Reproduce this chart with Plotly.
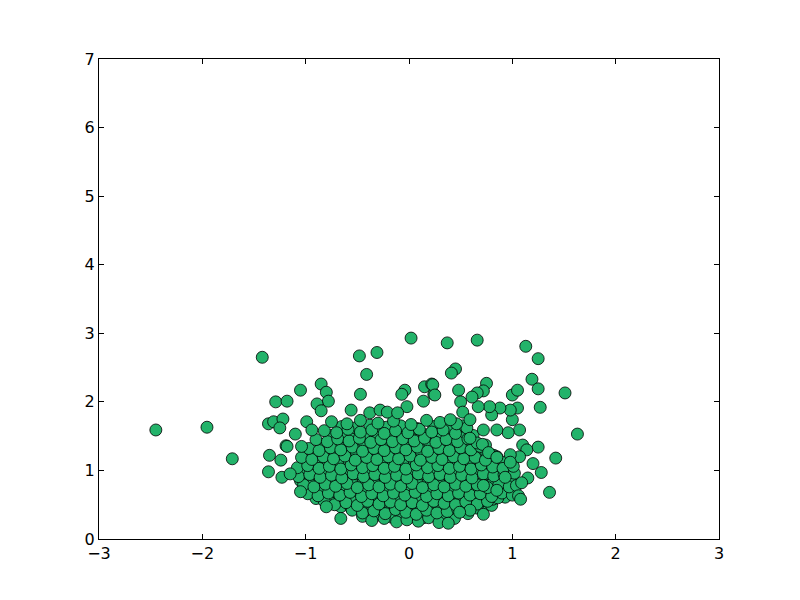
import plotly.graph_objects as go

GREEN = "#23B36A"

# scattered points around the main cloud
outer_x = [-2.45, -1.955, -1.71, -1.42, -0.48, -0.31, 0.02, 0.37, 0.66, -0.41, -0.47, 0.45, 0.41,
           1.13, 1.25, 1.19, 1.51, 1.63, 1.42, 1.36, 1.28, 1.27, 1.25, 1.25, 1.06, 1.08, 0.72,
           -1.29, -1.18, -1.36, -1.31, -1.22, -1.25, -1.19, -1.35, -1.24, -1.36, -1.23,
           -0.85, -0.80, -0.78, -1.05, -0.89, -0.85, -0.56, -0.04, -0.07, 0.14, 0.15, 0.22, 0.24,
           -0.38, -0.28, -0.21, -0.02, -0.11, -1.10, -1.04, -1.18, -1.15, -1.05, -0.80, -0.66,
           -0.99, -0.94,
           1.07, 1.10, 1.14, 1.07, 0.98, 0.98, 1.20, 1.15, 1.09, 0.93, 0.96, 0.85, 1.00, 1.05,
           0.98, 0.88, 0.80, 0.78, 0.67, 0.75, 0.72, 0.66, 0.61, 1.00, 1.05, 0.48, 0.50, 0.52,
           0.23, 0.25, 0.40, 0.59, 0.72, 0.59, 0.71, 0.77, 0.85, 0.85, 0.72, 0.59, 0.49, 0.38]
outer_y = [1.59, 1.63, 1.17, 2.65, 2.67, 2.72, 2.93, 2.86, 2.90, 2.40, 2.11, 2.48, 2.42,
           2.81, 2.63, 2.33, 2.13, 1.53, 1.18, 0.68, 0.97, 1.92, 2.19, 1.34, 0.63, 0.58, 0.36,
           2.00, 2.01, 1.68, 1.71, 1.75, 1.62, 1.36, 1.22, 1.15, 0.98, 0.90,
           2.26, 2.14, 2.01, 2.17, 1.97, 1.87, 1.88, 2.17, 2.11, 2.01, 2.22, 2.26, 2.11,
           1.84, 1.88, 1.85, 1.93, 1.84, 1.53, 1.35, 1.35, 0.95, 0.69, 0.47, 0.30,
           1.71, 1.59,
           1.59, 1.37, 1.30, 1.20, 1.23, 1.12, 1.10, 0.89, 0.82, 0.90, 1.55, 1.59, 1.74, 1.91,
           1.88, 1.91, 1.81, 1.93, 1.93, 2.27, 2.16, 2.13, 2.07, 2.10, 2.17, 2.17, 2.00, 1.85,
           2.25, 2.10, 1.74, 1.74, 1.59, 1.47, 1.38, 1.26, 1.19, 0.71, 0.78, 0.42, 0.39, 0.23]

# dense core of the cloud, row by row
core_x = [-0.36, -0.24, -0.12, -0.02, 0.09, 0.19, 0.29,
          -0.55, -0.45, -0.34, -0.23, -0.13, -0.03, 0.07, 0.17, 0.27, 0.37, 0.47, 0.57, 0.66,
          -0.82, -0.72, -0.61, -0.50, -0.40, -0.29, -0.18, -0.08, 0.03, 0.13, 0.24, 0.34, 0.45, 0.55, 0.66, 0.76, 0.86,
          -0.98, -0.88, -0.78, -0.67, -0.57, -0.46, -0.36, -0.25, -0.15, -0.04, 0.06, 0.17, 0.27, 0.38, 0.48, 0.59, 0.69, 0.80, 0.90, 1.00,
          -1.02, -0.92, -0.81, -0.71, -0.60, -0.50, -0.39, -0.29, -0.18, -0.08, 0.03, 0.13, 0.24, 0.34, 0.45, 0.55, 0.66, 0.76, 0.87, 0.97, 1.04,
          -1.07, -0.96, -0.86, -0.75, -0.65, -0.54, -0.44, -0.33, -0.23, -0.12, -0.02, 0.09, 0.19, 0.30, 0.40, 0.51, 0.61, 0.72, 0.82, 0.92, 1.02,
          -1.08, -0.98, -0.87, -0.77, -0.66, -0.56, -0.45, -0.35, -0.24, -0.14, -0.03, 0.07, 0.18, 0.28, 0.39, 0.49, 0.60, 0.70, 0.81, 0.91, 1.01,
          -1.04, -0.94, -0.83, -0.73, -0.62, -0.52, -0.41, -0.31, -0.20, -0.10, 0.01, 0.11, 0.22, 0.32, 0.43, 0.53, 0.64, 0.74, 0.85,
          -0.97, -0.87, -0.76, -0.66, -0.55, -0.45, -0.34, -0.24, -0.13, -0.03, 0.08, 0.18, 0.29, 0.39, 0.50, 0.60, 0.69,
          -0.90, -0.79, -0.69, -0.58, -0.48, -0.37, -0.27, -0.16, -0.06, 0.05, 0.15, 0.26, 0.36, 0.47, 0.57, 0.66,
          -0.82, -0.70, -0.59, -0.47, -0.36, -0.24, -0.13, -0.01, 0.10, 0.22, 0.33, 0.45, 0.56,
          -0.75, -0.60, -0.47, -0.30, -0.15, 0.02, 0.17, 0.30, 0.46]
core_y = [0.27, 0.30, 0.25, 0.28, 0.26, 0.31, 0.24,
          0.42, 0.38, 0.41, 0.37, 0.43, 0.39, 0.36, 0.42, 0.38, 0.40, 0.44, 0.37, 0.45,
          0.55, 0.50, 0.53, 0.49, 0.55, 0.51, 0.54, 0.50, 0.53, 0.49, 0.55, 0.52, 0.50, 0.54, 0.51, 0.55, 0.60,
          0.66, 0.63, 0.67, 0.64, 0.68, 0.62, 0.66, 0.63, 0.67, 0.64, 0.68, 0.62, 0.66, 0.63, 0.67, 0.64, 0.66, 0.62, 0.67, 0.64,
          0.79, 0.76, 0.80, 0.77, 0.81, 0.75, 0.79, 0.76, 0.80, 0.77, 0.81, 0.75, 0.79, 0.76, 0.80, 0.77, 0.79, 0.75, 0.80, 0.76, 0.78,
          0.91, 0.94, 0.90, 0.93, 0.89, 0.95, 0.91, 0.94, 0.90, 0.93, 0.89, 0.95, 0.91, 0.94, 0.90, 0.93, 0.89, 0.95, 0.92, 0.94, 0.96,
          1.04, 1.07, 1.03, 1.06, 1.02, 1.08, 1.04, 1.07, 1.03, 1.06, 1.02, 1.08, 1.04, 1.07, 1.03, 1.06, 1.02, 1.08, 1.05, 1.03, 1.06,
          1.19, 1.16, 1.20, 1.17, 1.21, 1.15, 1.19, 1.16, 1.20, 1.17, 1.21, 1.15, 1.19, 1.16, 1.20, 1.17, 1.19, 1.15, 1.20,
          1.32, 1.29, 1.33, 1.30, 1.34, 1.28, 1.32, 1.29, 1.33, 1.30, 1.34, 1.28, 1.32, 1.29, 1.33, 1.30, 1.35,
          1.45, 1.42, 1.46, 1.43, 1.47, 1.41, 1.45, 1.42, 1.46, 1.43, 1.47, 1.41, 1.45, 1.42, 1.46, 1.40,
          1.58, 1.55, 1.60, 1.56, 1.59, 1.54, 1.58, 1.55, 1.60, 1.56, 1.59, 1.54, 1.62,
          1.71, 1.68, 1.73, 1.69, 1.72, 1.67, 1.73, 1.70, 1.68]

# second, staggered layer of the core (the cloud overlaps heavily)
fill_x = [-0.45, -0.30, -0.17, -0.07, 0.04, 0.14, 0.24, 0.34, 0.44,
          -0.66, -0.56, -0.44, -0.35, -0.24, -0.13, -0.02, 0.08, 0.19, 0.29, 0.40, 0.50, 0.61, 0.71, 0.80,
          -0.90, -0.77, -0.66, -0.55, -0.45, -0.35, -0.24, -0.13, -0.02, 0.08, 0.18, 0.29, 0.40, 0.50, 0.61, 0.71, 0.81, 0.93,
          -1.00, -0.93, -0.83, -0.72, -0.62, -0.51, -0.41, -0.30, -0.20, -0.09, 0.01, 0.12, 0.22, 0.33, 0.43, 0.54, 0.64, 0.75, 0.85, 0.95,
          -1.05, -0.97, -0.86, -0.76, -0.65, -0.55, -0.44, -0.34, -0.23, -0.13, -0.02, 0.08, 0.19, 0.29, 0.40, 0.50, 0.61, 0.71, 0.82, 0.92, 1.00,
          -1.03, -0.93, -0.82, -0.72, -0.61, -0.51, -0.40, -0.30, -0.19, -0.09, 0.02, 0.12, 0.23, 0.33, 0.44, 0.54, 0.65, 0.75, 0.86, 0.97,
          -1.00, -0.89, -0.79, -0.68, -0.58, -0.47, -0.37, -0.26, -0.16, -0.05, 0.05, 0.16, 0.26, 0.37, 0.47, 0.58, 0.68, 0.79, 0.92,
          -0.93, -0.82, -0.72, -0.61, -0.51, -0.40, -0.30, -0.19, -0.09, 0.02, 0.12, 0.23, 0.33, 0.44, 0.54, 0.65, 0.75, 0.82,
          -0.85, -0.74, -0.64, -0.53, -0.43, -0.32, -0.22, -0.11, -0.01, 0.10, 0.20, 0.31, 0.41, 0.52, 0.62, 0.74,
          -0.76, -0.64, -0.53, -0.42, -0.30, -0.19, -0.07, 0.04, 0.16, 0.27, 0.39, 0.50, 0.62,
          -0.65, -0.52, -0.38, -0.22, -0.08, 0.08, 0.24, 0.38, 0.52]
fill_y = [0.33, 0.35, 0.32, 0.36, 0.34, 0.31, 0.35, 0.33, 0.30,
          0.47, 0.45, 0.48, 0.44, 0.47, 0.46, 0.43, 0.48, 0.45, 0.47, 0.44, 0.48, 0.46, 0.45, 0.49,
          0.59, 0.57, 0.60, 0.56, 0.59, 0.58, 0.55, 0.60, 0.57, 0.59, 0.56, 0.60, 0.58, 0.57, 0.59, 0.56, 0.58, 0.61,
          0.72, 0.70, 0.73, 0.69, 0.72, 0.71, 0.68, 0.73, 0.70, 0.72, 0.69, 0.73, 0.71, 0.70, 0.72, 0.69, 0.71, 0.73, 0.70, 0.72,
          0.85, 0.83, 0.86, 0.84, 0.87, 0.82, 0.85, 0.83, 0.86, 0.84, 0.87, 0.82, 0.85, 0.83, 0.86, 0.84, 0.87, 0.82, 0.85, 0.83, 0.86,
          0.98, 0.96, 0.99, 0.97, 1.00, 0.95, 0.98, 0.96, 0.99, 0.97, 1.00, 0.95, 0.98, 0.96, 0.99, 0.97, 1.00, 0.95, 0.98, 0.97,
          1.12, 1.10, 1.13, 1.11, 1.14, 1.09, 1.12, 1.10, 1.13, 1.11, 1.14, 1.09, 1.12, 1.10, 1.13, 1.11, 1.14, 1.09, 1.12,
          1.25, 1.23, 1.26, 1.24, 1.27, 1.22, 1.25, 1.23, 1.26, 1.24, 1.27, 1.22, 1.25, 1.23, 1.26, 1.24, 1.27, 1.22,
          1.38, 1.36, 1.39, 1.37, 1.40, 1.35, 1.38, 1.36, 1.39, 1.37, 1.40, 1.35, 1.38, 1.36, 1.39, 1.37,
          1.51, 1.49, 1.52, 1.50, 1.53, 1.48, 1.51, 1.49, 1.52, 1.50, 1.53, 1.48, 1.51,
          1.64, 1.62, 1.66, 1.63, 1.65, 1.61, 1.64, 1.62, 1.65]

x = fill_x + core_x + outer_x
y = fill_y + core_y + outer_y

fig = go.Figure(go.Scatter(
    x=x, y=y, mode="markers",
    marker=dict(size=12, color=GREEN, line=dict(color="black", width=0.8)),
))

axis = dict(showgrid=False, zeroline=False, showline=True, linecolor="black", linewidth=1,
            mirror="ticks", ticks="inside", ticklen=5, tickcolor="black",
            tickfont=dict(family="DejaVu Sans", size=16, color="black"))
fig.update_xaxes(range=[-3, 3], dtick=1, **axis)
fig.update_yaxes(range=[0, 7], dtick=1, **axis)
fig.update_layout(width=800, height=600, plot_bgcolor="white", paper_bgcolor="white",
                  margin=dict(l=91, r=89, t=51, b=69), showlegend=False)

fig.write_html("out.html")
